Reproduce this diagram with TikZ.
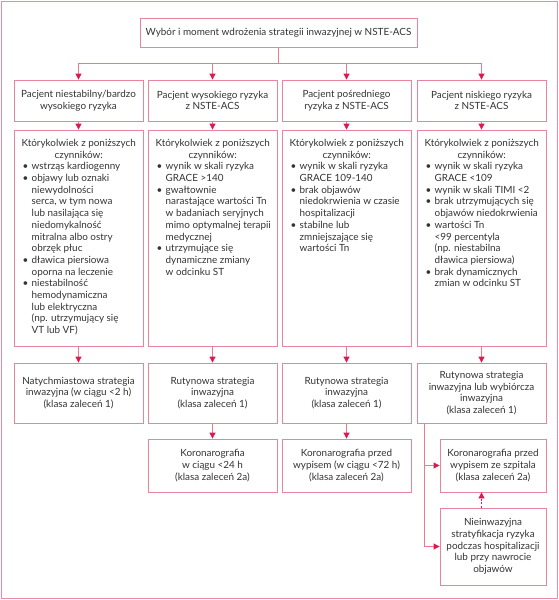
\documentclass[tikz,border=0pt]{standalone}
\usepackage{fontspec}
\setmainfont{Lato}
\usetikzlibrary{arrows.meta}
\definecolor{framepink}{HTML}{EA8BA3}
\definecolor{boxpink}{HTML}{E9849D}
\definecolor{linepink}{HTML}{E87A94}
\definecolor{arrowred}{HTML}{E0174F}
\definecolor{txt}{HTML}{333333}
\newcommand{\bl}[1]{\makebox[9pt][l]{\textbullet}#1}
\newcommand{\cl}[1]{\hspace*{9pt}#1}
\newcommand{\hd}[1]{\makebox[112pt][c]{#1}}
\tikzset{
  box/.style={draw=boxpink, line width=0.8pt, inner sep=0pt, align=center,
    text=txt, font=\fontsize{9.9}{11.7}\selectfont},
  lst/.style={inner sep=0pt, align=left, anchor=north west, text=txt,
    font=\fontsize{9.9}{11.7}\selectfont},
  conn/.style={draw=linepink, line width=0.8pt},
  arr/.style={-{Triangle[length=6pt,width=6pt,color=arrowred]}},
  dsh/.style={draw=arrowred, dash pattern=on 2pt off 1.5pt}
}
\begin{document}
\begin{tikzpicture}[x=1pt,y=-1pt]
\useasboundingbox (0,0) rectangle (559,600);
\draw[framepink, line width=1pt] (1.5,1.5) rectangle (557.5,598.5);
% top
\node[box, minimum width=277pt, minimum height=29pt] (top) at (278.5,32.5)
  {Wybór i moment wdrożenia strategii inwazyjnej w NSTE-ACS};
% row 1
\node[box, minimum width=129pt, minimum height=41pt] (p1) at (78.5,100.5)
  {Pacjent niestabilny/bardzo\\wysokiego ryzyka};
\node[box, minimum width=129pt, minimum height=41pt] (p2) at (212.5,100.5)
  {Pacjent wysokiego ryzyka\\z NSTE-ACS};
\node[box, minimum width=129pt, minimum height=41pt] (p3) at (346.5,100.5)
  {Pacjent pośredniego\\ryzyka z NSTE-ACS};
\node[box, minimum width=129pt, minimum height=41pt] (p4) at (481.5,100.5)
  {Pacjent niskiego ryzyka\\z NSTE-ACS};
% row 2
\node[box, minimum width=129pt, minimum height=216pt] (c1) at (78.5,238) {};
\node[box, minimum width=129pt, minimum height=216pt] (c2) at (212.5,238) {};
\node[box, minimum width=129pt, minimum height=216pt] (c3) at (346.5,238) {};
\node[box, minimum width=129pt, minimum height=216pt] (c4) at (481.5,238) {};
\node[lst] (t1) at (22.5,139) {\hd{Którykolwiek z poniższych}\\\hd{czynników:}\\
  \bl{wstrząs kardiogenny}\\
  \bl{objawy lub oznaki}\\\cl{niewydolności}\\\cl{serca, w tym nowa}\\\cl{lub nasilająca się}\\
  \cl{niedomykalność}\\\cl{mitralna albo ostry}\\\cl{obrzęk płuc}\\
  \bl{dławica piersiowa}\\\cl{oporna na leczenie}\\
  \bl{niestabilność}\\\cl{hemodynamiczna}\\\cl{lub elektryczna}\\\cl{(np. utrzymujący się}\\\cl{VT lub VF)}};
\node[lst] (t2) at (156.5,139) {\hd{Którykolwiek z poniższych}\\\hd{czynników:}\\
  \bl{wynik w skali ryzyka}\\\cl{GRACE >140}\\
  \bl{gwałtownie}\\\cl{narastające wartości Tn}\\\cl{w badaniach seryjnych}\\
  \cl{mimo optymalnej terapii}\\\cl{medycznej}\\
  \bl{utrzymujące się}\\\cl{dynamiczne zmiany}\\\cl{w odcinku ST}};
\node[lst] (t3) at (290.5,139) {\hd{Którykolwiek z poniższych}\\\hd{czynników:}\\
  \bl{wynik w skali ryzyka}\\\cl{GRACE 109-140}\\
  \bl{brak objawów}\\\cl{niedokrwienia w czasie}\\\cl{hospitalizacji}\\
  \bl{stabilne lub}\\\cl{zmniejszające się}\\\cl{wartości Tn}};
\node[lst] (t4) at (425.5,139) {\hd{Którykolwiek z poniższych}\\\hd{czynników:}\\
  \bl{wynik w skali ryzyka}\\\cl{GRACE <109}\\
  \bl{wynik w skali TIMI <2}\\
  \bl{brak utrzymujących się}\\\cl{objawów niedokrwienia}\\
  \bl{wartości Tn}\\\cl{<99 percentyla}\\\cl{(np. niestabilna}\\\cl{dławica piersiowa)}\\
  \bl{brak dynamicznych}\\\cl{zmian w odcinku ST}};
% row 3
\node[box, minimum width=129pt, minimum height=60pt] (s1) at (78.5,393)
  {Natychmiastowa strategia\\inwazyjna (w ciągu <2 h)\\(klasa zaleceń 1)};
\node[box, minimum width=129pt, minimum height=60pt] (s2) at (212.5,393)
  {Rutynowa strategia\\inwazyjna\\(klasa zaleceń 1)};
\node[box, minimum width=129pt, minimum height=60pt] (s3) at (346.5,393)
  {Rutynowa strategia\\inwazyjna\\(klasa zaleceń 1)};
\node[box, minimum width=129pt, minimum height=60pt] (s4) at (481.5,393)
  {Rutynowa strategia\\inwazyjna lub wybiórcza\\inwazyjna\\(klasa zaleceń 1)};
% row 4
\node[box, minimum width=129pt, minimum height=53pt] (k2) at (212.5,465.5)
  {Koronarografia\\w ciągu <24 h\\(klasa zaleceń 2a)};
\node[box, minimum width=129pt, minimum height=53pt] (k3) at (346.5,465.5)
  {Koronarografia przed\\wypisem (w ciągu <72 h)\\(klasa zaleceń 2a)};
\node[box, minimum width=106pt, minimum height=53pt] (k4) at (493,465.5)
  {Koronarografia przed\\wypisem ze szpitala\\(klasa zaleceń 2a)};
\node[box, minimum width=106pt, minimum height=77pt] (nie) at (493,546.5)
  {Nieinwazyjna\\stratyfikacja ryzyka\\podczas hospitalizacji\\lub przy nawrocie\\objawów};
% connectors
\coordinate (hub) at (278.5,63.5);
\draw[conn] (top.south) -- (hub);
\foreach \n in {p1,p2,p3,p4} \draw[conn,arr] (hub) -| (\n.north);
\draw[conn,arr] (p1) -- (c1);
\draw[conn,arr] (p2) -- (c2);
\draw[conn,arr] (p3) -- (c3);
\draw[conn,arr] (p4) -- (c4);
\draw[conn,arr] (c1) -- (s1);
\draw[conn,arr] (c2) -- (s2);
\draw[conn,arr] (c3) -- (s3);
\draw[conn,arr] (c4) -- (s4);
\draw[conn,arr] (s2) -- (k2);
\draw[conn,arr] (s3) -- (k3);
\coordinate (v4) at (424,0);
\draw[conn,arr] (s4.south -| v4) |- (nie.west);
\draw[conn,arr] (s4.south -| v4) |- (k4.west);
\coordinate (d4) at (481.5,0);
\draw[dsh,line width=0.8pt,arr] (nie.north -| d4) -- (k4.south -| d4);
\end{tikzpicture}
\end{document}
